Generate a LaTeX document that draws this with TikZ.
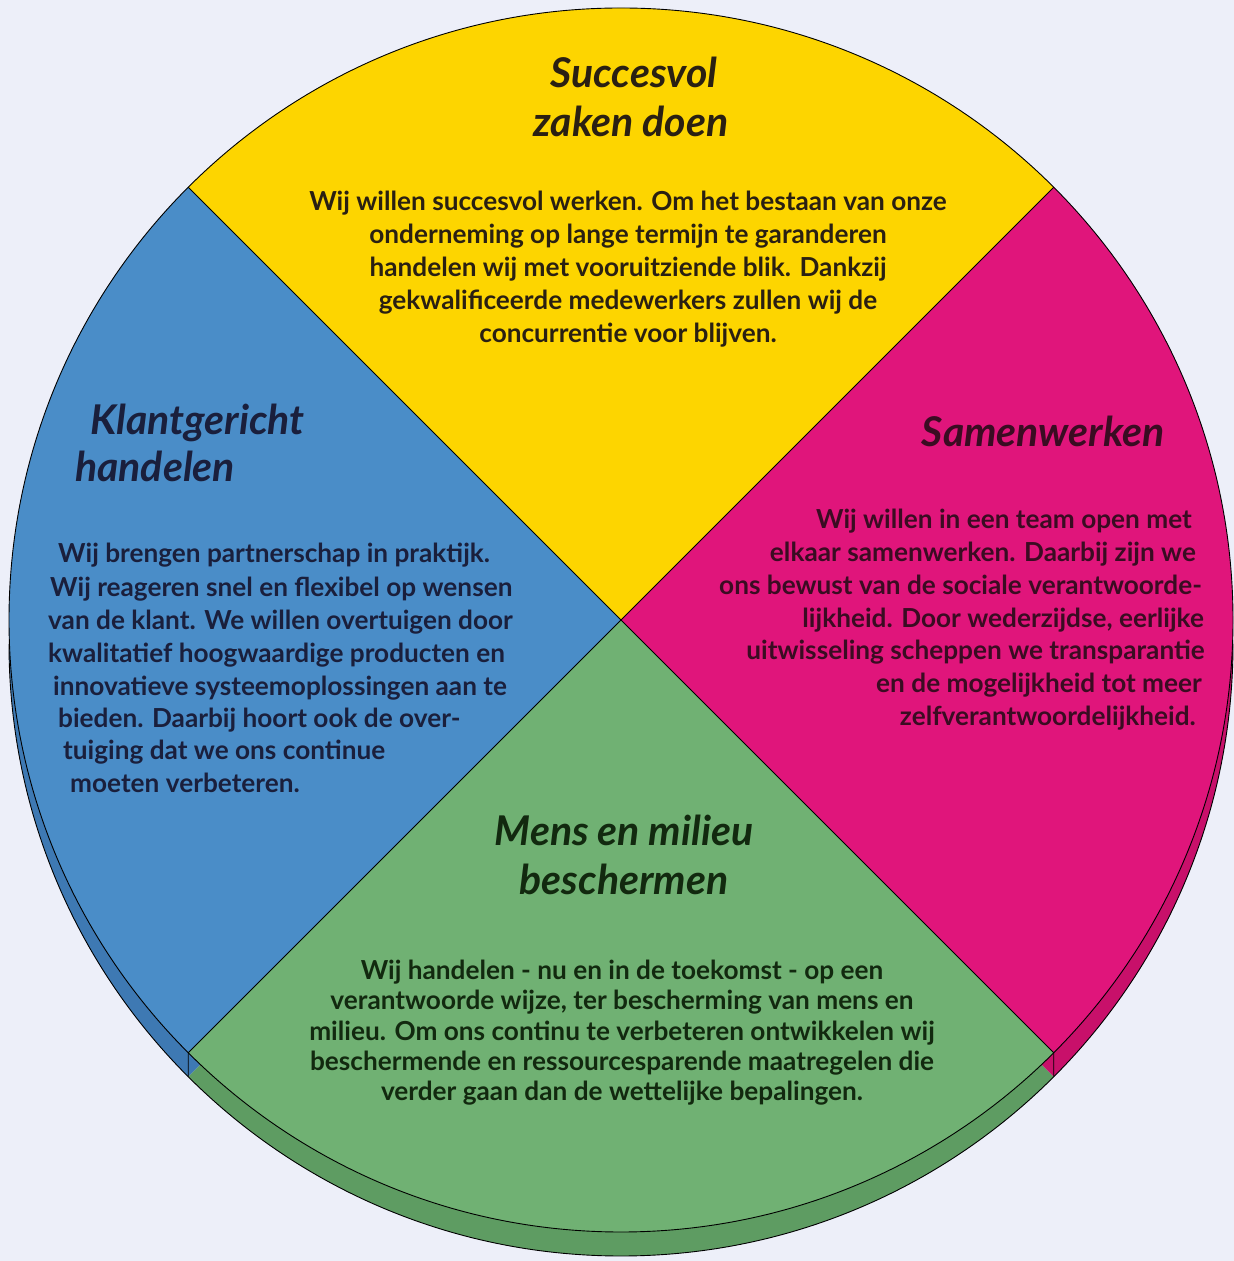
\documentclass[tikz,border=0pt]{standalone}
\usepackage{fontspec}
\setmainfont{Lato}
\definecolor{bg}{HTML}{EDEFF9}
\definecolor{ylw}{HTML}{FDD500}
\definecolor{blu}{HTML}{4A8DC8}
\definecolor{mag}{HTML}{E0157B}
\definecolor{grn}{HTML}{70B173}
\definecolor{bludk}{HTML}{3E79B3}
\definecolor{magdk}{HTML}{C8106A}
\definecolor{grndk}{HTML}{5E9C62}
\definecolor{ylwdk}{HTML}{E0B800}
\definecolor{tylw}{HTML}{2A2012}
\definecolor{tblu}{HTML}{1A1F3C}
\definecolor{tmag}{HTML}{3A0C22}
\definecolor{tgrn}{HTML}{12290F}
\tikzset{
  head/.style={inner sep=0pt, font=\fontsize{41}{48}\selectfont\bfseries\itshape},
  body/.style={inner sep=0pt, font=\fontsize{26.2}{31}\selectfont\bfseries},
  edge/.style={draw=black, line width=0.9pt},
}
\begin{document}
\begin{tikzpicture}[x=1pt,y=1pt]
\useasboundingbox (0,0) rectangle (1234,1261);
\fill[bg] (0,0) rectangle (1234,1261);
\def\R{612}
\coordinate (C) at (621,641);
\coordinate (Cs) at (621,617);
% rim (shifted disk)
\fill[ylwdk] (Cs) -- ++(45:\R) arc[start angle=45,end angle=135,radius=\R] -- cycle;
\fill[bludk] (Cs) -- ++(135:\R) arc[start angle=135,end angle=225,radius=\R] -- cycle;
\fill[grndk] (Cs) -- ++(225:\R) arc[start angle=225,end angle=315,radius=\R] -- cycle;
\fill[magdk] (Cs) -- ++(-45:\R) arc[start angle=-45,end angle=45,radius=\R] -- cycle;
\draw[edge] (Cs) ++(0:\R) arc[start angle=0,end angle=-180,radius=\R];
% top disk
\fill[ylw] (C) -- ++(45:\R) arc[start angle=45,end angle=135,radius=\R] -- cycle;
\fill[blu] (C) -- ++(135:\R) arc[start angle=135,end angle=225,radius=\R] -- cycle;
\fill[grn] (C) -- ++(225:\R) arc[start angle=225,end angle=315,radius=\R] -- cycle;
\fill[mag] (C) -- ++(-45:\R) arc[start angle=-45,end angle=45,radius=\R] -- cycle;
\draw[edge] (C) circle[radius=\R];
\draw[edge] (C) -- ++(45:\R);
\draw[edge] (C) -- ++(135:\R);
\draw[edge] (C) -- ++(225:\R) coordinate (cbl) -- ++(0,-24);
\draw[edge] (C) -- ++(-45:\R) coordinate (cbr) -- ++(0,-24);
% yellow
\begin{scope}[text=tylw]
\node[head, anchor=base] (y1) at (634,1173) {Succesvol};
\node[head, anchor=base] (y2) at (631,1124) {zaken doen};
\node[body, anchor=base] (y3) at (628,1050) {Wij willen succesvol werken. Om het bestaan van onze};
\node[body, anchor=base] (y4) at (628,1017) {onderneming op lange termijn te garanderen};
\node[body, anchor=base] (y5) at (628,984) {handelen wij met vooruitziende blik. Dankzij};
\node[body, anchor=base] (y6) at (628,951) {gekwalificeerde medewerkers zullen wij de};
\node[body, anchor=base] (y7) at (628,918) {concurrentie voor blijven.};
\end{scope}
% blue
\begin{scope}[text=tblu]
\node[head, anchor=base west] (b1) at (90,826) {Klantgericht};
\node[head, anchor=base west] (b2) at (75,779) {handelen};
\node[body, anchor=base west] (b3) at (58,698) {Wij brengen partnerschap in praktijk.};
\node[body, anchor=base west] (b4) at (50,664) {Wij reageren snel en flexibel op wensen};
\node[body, anchor=base west] (b5) at (48,631) {van de klant. We willen overtuigen door};
\node[body, anchor=base west] (b6) at (48,598) {kwalitatief hoogwaardige producten en};
\node[body, anchor=base west] (b7) at (53,565) {innovatieve systeemoplossingen aan te};
\node[body, anchor=base west] (b8) at (58,533) {bieden. Daarbij hoort ook de over-};
\node[body, anchor=base west] (b9) at (63,501) {tuiging dat we ons continue};
\node[body, anchor=base west] (b10) at (70,468) {moeten verbeteren.};
\end{scope}
% magenta
\begin{scope}[text=tmag]
\node[head, anchor=base east] (m1) at (1165,814) {Samenwerken};
\node[body, anchor=base east] (m2) at (1192,732) {Wij willen in een team open met};
\node[body, anchor=base east] (m3) at (1196,699) {elkaar samenwerken. Daarbij zijn we};
\node[body, anchor=base east] (m4) at (1202,666) {ons bewust van de sociale verantwoorde-};
\node[body, anchor=base east] (m5) at (1204,633) {lijkheid. Door wederzijdse, eerlijke};
\node[body, anchor=base east] (m6) at (1205,601) {uitwisseling scheppen we transparantie};
\node[body, anchor=base east] (m7) at (1202,568) {en de mogelijkheid tot meer};
\node[body, anchor=base east] (m8) at (1196,535) {zelfverantwoordelijkheid.};
\end{scope}
% green
\begin{scope}[text=tgrn]
\node[head, anchor=base] (g1) at (624,415) {Mens en milieu};
\node[head, anchor=base] (g2) at (624,366) {beschermen};
\node[body, anchor=base] (g3) at (622,281) {Wij handelen - nu en in de toekomst - op een};
\node[body, anchor=base] (g4) at (622,251) {verantwoorde wijze, ter bescherming van mens en};
\node[body, anchor=base] (g5) at (622,220) {milieu. Om ons continu te verbeteren ontwikkelen wij};
\node[body, anchor=base] (g6) at (622,190) {beschermende en ressourcesparende maatregelen die};
\node[body, anchor=base] (g7) at (622,160) {verder gaan dan de wettelijke bepalingen.};
\end{scope}
\end{tikzpicture}
\end{document}
